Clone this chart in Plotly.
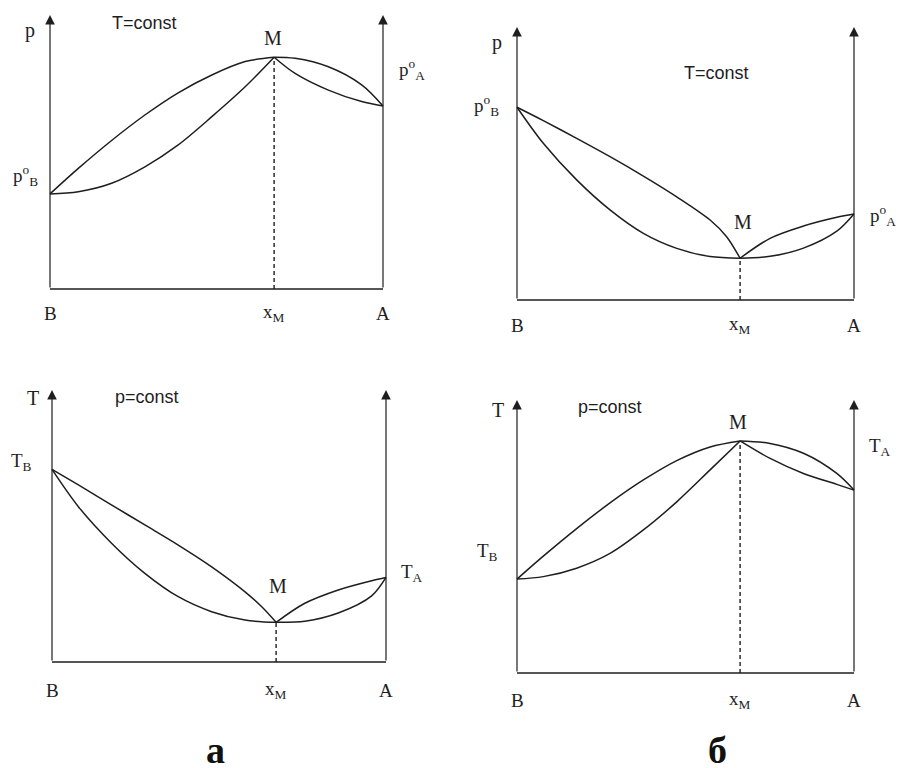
import plotly.graph_objects as go

# ---------------- data (normalised composition x: B=0 .. A=1; property: bottom=0 .. arrow tip=1)
# panel a, top: p vs x at T=const (max-pressure azeotrope)
a1_xM, a1_yM, a1_yB, a1_yA = 0.673, 0.846, 0.347, 0.668
a1_up_left_x = [0, 0.085, 0.185, 0.285, 0.385, 0.486, 0.586, 0.673]
a1_up_left_y = [0.347, 0.440, 0.542, 0.635, 0.716, 0.781, 0.830, 0.846]
a1_lo_left_x = [0, 0.085, 0.185, 0.285, 0.385, 0.486, 0.586, 0.673]
a1_lo_left_y = [0.347, 0.355, 0.386, 0.446, 0.526, 0.629, 0.738, 0.846]
a1_right_x = [0.673, 0.736, 0.836, 0.936, 1]
a1_up_right_y = [0.846, 0.842, 0.811, 0.745, 0.668]
a1_lo_right_y = [0.846, 0.787, 0.726, 0.684, 0.668]

# panel б, top: p vs x at T=const (min-pressure azeotrope)
b1_xM, b1_yM, b1_yB, b1_yA = 0.662, 0.153, 0.706, 0.315
b1_up_left_x = [0, 0.078, 0.177, 0.276, 0.375, 0.474, 0.573, 0.622, 0.662]
b1_up_left_y = [0.706, 0.657, 0.592, 0.525, 0.454, 0.378, 0.293, 0.232, 0.153]
b1_lo_left_x = [0, 0.078, 0.177, 0.276, 0.375, 0.474, 0.573, 0.662]
b1_lo_left_y = [0.706, 0.574, 0.440, 0.330, 0.244, 0.189, 0.159, 0.153]
b1_right_x = [0.662, 0.751, 0.850, 0.949, 1]
b1_up_right_y = [0.153, 0.226, 0.271, 0.303, 0.315]
b1_lo_right_y = [0.153, 0.160, 0.190, 0.252, 0.315]

# panel a, bottom: T vs x at p=const (min-boiling azeotrope)
a2_xM, a2_yM, a2_yB, a2_yA = 0.671, 0.146, 0.708, 0.311
a2_up_left_x = [0, 0.079, 0.179, 0.278, 0.378, 0.478, 0.578, 0.628, 0.671]
a2_up_left_y = [0.708, 0.651, 0.577, 0.504, 0.430, 0.350, 0.258, 0.203, 0.146]
a2_lo_left_x = [0, 0.079, 0.179, 0.278, 0.378, 0.478, 0.578, 0.671]
a2_lo_left_y = [0.708, 0.571, 0.436, 0.326, 0.240, 0.185, 0.154, 0.146]
a2_right_x = [0.671, 0.757, 0.857, 0.957, 1]
a2_up_right_y = [0.146, 0.216, 0.265, 0.299, 0.311]
a2_lo_right_y = [0.146, 0.150, 0.180, 0.243, 0.311]

# panel б, bottom: T vs x at p=const (max-boiling azeotrope)
b2_xM, b2_yM, b2_yB, b2_yA = 0.662, 0.850, 0.344, 0.670
b2_up_left_x = [0, 0.078, 0.177, 0.276, 0.375, 0.474, 0.573, 0.662]
b2_up_left_y = [0.344, 0.428, 0.529, 0.623, 0.707, 0.778, 0.828, 0.850]
b2_lo_left_x = [0, 0.078, 0.177, 0.276, 0.375, 0.474, 0.573, 0.662]
b2_lo_left_y = [0.344, 0.353, 0.384, 0.438, 0.524, 0.627, 0.744, 0.850]
b2_right_x = [0.662, 0.751, 0.850, 0.949, 1]
b2_up_right_y = [0.850, 0.841, 0.805, 0.731, 0.670]
b2_lo_right_y = [0.850, 0.786, 0.731, 0.691, 0.670]

# text labels
axis_names = ["p", "p", "T", "T"]
cond_labels = ["T=const", "T=const", "p=const", "p=const"]
left_labels = ["p<sup>o</sup><sub>B</sub>", "p<sup>o</sup><sub>B</sub>", "T<sub>B</sub>", "T<sub>B</sub>"]
right_labels = ["p<sup>o</sup><sub>A</sub>", "p<sup>o</sup><sub>A</sub>", "T<sub>A</sub>", "T<sub>A</sub>"]
bottom_labels = ["B", "x<sub>M</sub>", "A"]
panel_letters = ["а", "б"]

# ---------------- layout geometry (pixel frame of each panel: left axis x, width, bottom y, height)
W, H = 903, 768
frames = [(50, 333, 289, 274), (517, 337, 300, 273), (52, 334, 662, 272), (517, 337, 673, 273)]
# label offsets (data units inside each panel)
label_pos = [
    dict(ax=(-0.06, 0.945), cond=(0.285, 0.971), left=(-0.075, 0.416), right=(1.087, 0.80), M=(0.67, 0.916), bot=-0.088),
    dict(ax=(-0.059, 0.945), cond=(0.593, 0.832), left=(-0.09, 0.714), right=(1.086, 0.311), M=(0.67, 0.286), bot=-0.092),
    dict(ax=(-0.057, 0.971), cond=(0.284, 0.974), left=(-0.09, 0.735), right=(1.078, 0.327), M=(0.677, 0.279), bot=-0.103),
    dict(ax=(-0.056, 0.963), cond=(0.276, 0.974), left=(-0.089, 0.443), right=(1.077, 0.828), M=(0.656, 0.919), bot=-0.099),
]

panels = [
    (a1_xM, a1_yM, a1_up_left_x, a1_up_left_y, a1_lo_left_x, a1_lo_left_y, a1_right_x, a1_up_right_y, a1_lo_right_y),
    (b1_xM, b1_yM, b1_up_left_x, b1_up_left_y, b1_lo_left_x, b1_lo_left_y, b1_right_x, b1_up_right_y, b1_lo_right_y),
    (a2_xM, a2_yM, a2_up_left_x, a2_up_left_y, a2_lo_left_x, a2_lo_left_y, a2_right_x, a2_up_right_y, a2_lo_right_y),
    (b2_xM, b2_yM, b2_up_left_x, b2_up_left_y, b2_lo_left_x, b2_lo_left_y, b2_right_x, b2_up_right_y, b2_lo_right_y),
]

INK = "#1e1e1e"
LW = 1.5
SERIF = "Liberation Serif, Times New Roman, serif"
SANS = "Liberation Sans, Arial, sans-serif"

fig = go.Figure()
annotations = []
layout_axes = {}

for i, (p, fr, lp) in enumerate(zip(panels, frames, label_pos)):
    n = "" if i == 0 else str(i + 1)
    xr, yr = "x" + n, "y" + n
    x0, w, y0, h = fr
    layout_axes["xaxis" + n] = dict(domain=[0, 1], range=[-x0 / w, (W - x0) / w], visible=False,
                                    fixedrange=True, anchor=yr)
    layout_axes["yaxis" + n] = dict(domain=[0, 1], range=[(y0 - H) / h, y0 / h], visible=False,
                                    fixedrange=True, anchor=xr)
    xM, yM, ulx, uly, llx, lly, rx, ury, lry = p
    for xs, ys in [(ulx, uly), (llx, lly), (rx, ury), (rx, lry)]:
        fig.add_trace(go.Scatter(x=xs, y=ys, mode="lines", line=dict(color=INK, width=LW, shape="spline", smoothing=0.9),
                                 xaxis=xr, yaxis=yr, hoverinfo="skip", showlegend=False))
    # dashed composition line of the azeotrope
    fig.add_trace(go.Scatter(x=[xM, xM], y=[0, yM], mode="lines", line=dict(color=INK, width=1.4, dash="4px,3px"),
                             xaxis=xr, yaxis=yr, hoverinfo="skip", showlegend=False))
    # bottom axis
    fig.add_trace(go.Scatter(x=[0, 1], y=[0, 0], mode="lines", line=dict(color=INK, width=1.7),
                             xaxis=xr, yaxis=yr, hoverinfo="skip", showlegend=False))
    # vertical axes with arrows
    for xv in (0, 1):
        annotations.append(dict(x=xv, y=1, ax=xv, ay=0, xref=xr, yref=yr, axref=xr, ayref=yr, text="",
                                showarrow=True, arrowhead=2, arrowsize=1.6, arrowwidth=1.2, arrowcolor=INK,
                                standoff=0, startstandoff=0))
    # labels
    def txt(pos, text, size=19, font=SERIF):
        annotations.append(dict(x=pos[0], y=pos[1], xref=xr, yref=yr, text=text, showarrow=False,
                                font=dict(family=font, size=size, color=INK), xanchor="center", yanchor="middle"))
    txt(lp["ax"], axis_names[i], 20)
    txt(lp["cond"], cond_labels[i], 18, SANS)
    txt(lp["left"], left_labels[i], 19)
    txt(lp["right"], right_labels[i], 19)
    txt(lp["M"], "M", 20)
    for xv, lab in zip([0, xM, 1], bottom_labels):
        txt((xv, lp["bot"]), lab, 19)

# panel letters
for lx, letter in zip([215, 717], panel_letters):
    annotations.append(dict(x=lx / W, y=1 - 750 / H, xref="paper", yref="paper", text="<b>" + letter + "</b>",
                            showarrow=False, font=dict(family=SERIF, size=38, color="#111"),
                            xanchor="center", yanchor="middle"))

fig.update_layout(width=W, height=H, margin=dict(l=0, r=0, t=0, b=0), paper_bgcolor="white",
                  plot_bgcolor="rgba(0,0,0,0)", showlegend=False, annotations=annotations, **layout_axes)

fig.write_html("out.html", config={"displayModeBar": False, "staticPlot": True},
               post_script="document.body.style.margin='0px';document.body.style.overflow='hidden';")
